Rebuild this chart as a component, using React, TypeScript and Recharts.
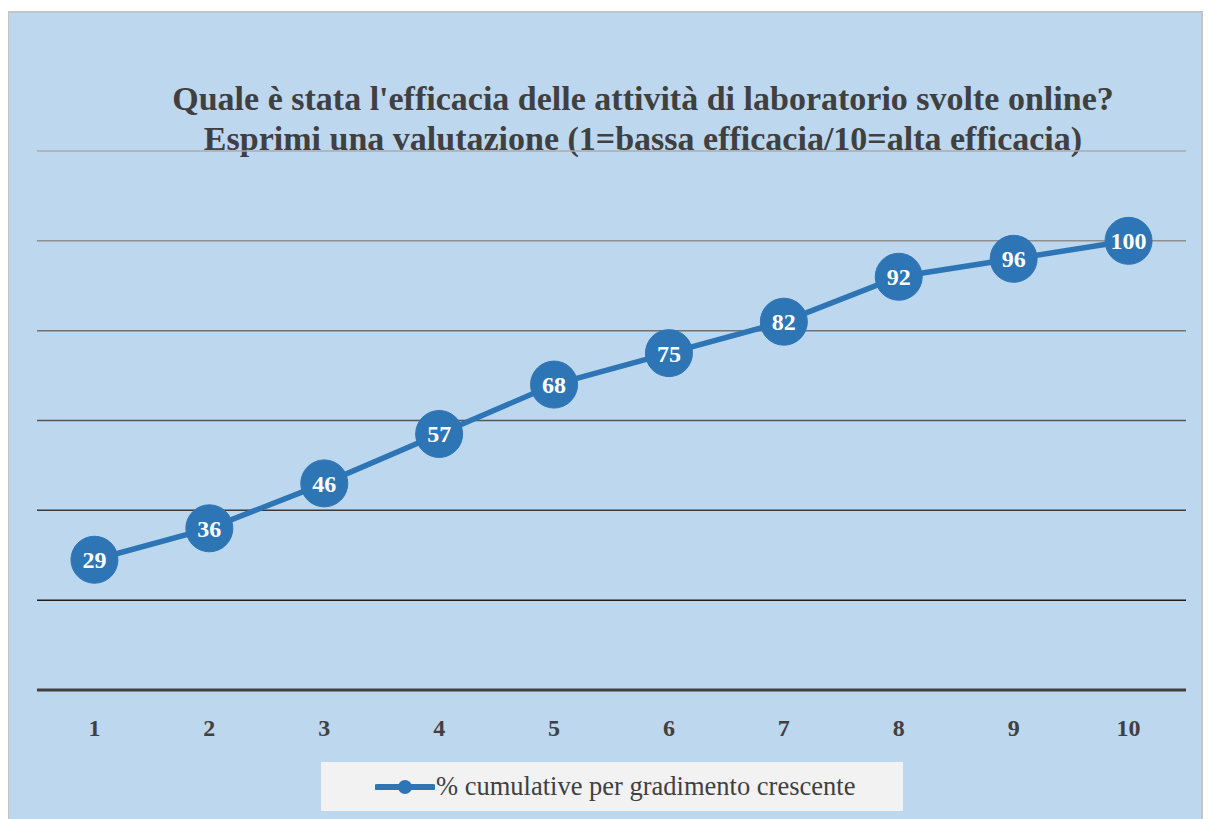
import { LineChart, Line, XAxis, YAxis, ReferenceLine, LabelList } from "recharts";

const scores = [1, 2, 3, 4, 5, 6, 7, 8, 9, 10];
const cumulative = [29, 36, 46, 57, 68, 75, 82, 92, 96, 100];
const gridValues = [20, 40, 60, 80, 100, 120];
const gridColors = ["#1f1f1f", "#3a3a3a", "#555555", "#737373", "#8f8f8f", "#ababab"];

const data = scores.map((s, i) => ({ score: s, pct: cumulative[i] }));

const SERIF = "'Liberation Serif', 'DejaVu Serif', serif";
const BLUE = "#2e75b6";

export default function App() {
  return (
    <div
      style={{
        position: "relative",
        marginLeft: -1,
        marginTop: 3,
        width: 1196,
        height: 820,
        background: "#bdd7ee",
        border: "2px solid #c4c4c4",
        boxSizing: "border-box",
        fontFamily: SERIF,
      }}
    >
      <div
        style={{
          position: "absolute",
          left: 0,
          width: 1268,
          top: 66,
          textAlign: "center",
          fontWeight: "bold",
          fontSize: 34,
          lineHeight: "40px",
          color: "#404040",
          whiteSpace: "nowrap",
        }}
      >
        Quale è stata l'efficacia delle attività di laboratorio svolte online?
        <br />
        Esprimi una valutazione (1=bassa efficacia/10=alta efficacia)
      </div>
      <LineChart
        width={1192}
        height={816}
        data={data}
        margin={{ top: 138, right: 15, bottom: 99, left: 28 }}
      >
        <XAxis
          dataKey="score"
          type="number"
          domain={[0.5, 10.5]}
          ticks={scores}
          tickLine={false}
          tickSize={6}
          tickMargin={23}
          height={40}
          axisLine={{ stroke: "#404040", strokeWidth: 3 }}
          tick={{ fill: "#404040", fontSize: 24, fontWeight: "bold", fontFamily: SERIF }}
        />
        <YAxis hide domain={[0, 120]} />
        {gridValues.map((v, i) => (
          <ReferenceLine key={v} y={v} stroke={gridColors[i]} strokeWidth={1.5} />
        ))}
        <Line
          dataKey="pct"
          stroke={BLUE}
          strokeWidth={5.5}
          dot={{ r: 23.5, fill: BLUE, stroke: BLUE, strokeWidth: 1 }}
          isAnimationActive={false}
        >
          <LabelList
            dataKey="pct"
            position="center"
            fill="#ffffff"
            fontSize={24}
            fontWeight="bold"
            fontFamily={SERIF}
          />
        </Line>
      </LineChart>
      <div
        style={{
          position: "absolute",
          left: 312,
          top: 749,
          width: 582,
          height: 49,
          background: "#f2f2f2",
          display: "flex",
          alignItems: "center",
          color: "#404040",
          fontSize: 26.5,
          whiteSpace: "nowrap",
        }}
      >
        <svg width={60} height={20} style={{ marginLeft: 54, flexShrink: 0 }}>
          <line x1={2} y1={10} x2={58} y2={10} stroke={BLUE} strokeWidth={6} strokeLinecap="round" />
          <circle cx={30} cy={10} r={7} fill={BLUE} />
        </svg>
        <span style={{ marginLeft: 1 }}>% cumulative per gradimento crescente</span>
      </div>
    </div>
  );
}
